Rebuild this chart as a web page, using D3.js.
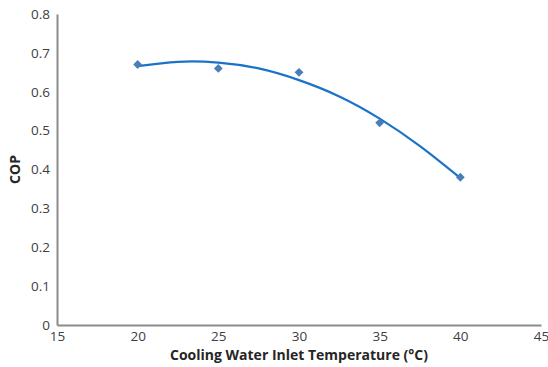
<!DOCTYPE html>
<html>
<head>
<meta charset="utf-8">
<script src="https://cdn.jsdelivr.net/npm/d3@7"></script>
<style>
  body { margin: 0; background: #fff; }
  text { font-family: "Open Sans", Lato, sans-serif; }
</style>
</head>
<body>
<div id="chart"></div>
<script>
// measured points
var temps = [20, 25, 30, 35, 40];
var copValues = [0.67, 0.66, 0.65, 0.52, 0.38];

// trendline (poly fit shown in the chart)
var trendTemps = [20, 22.5, 25, 27.5, 30, 32.5, 35, 37.5, 40];
var trendValues = [0.666, 0.677, 0.675, 0.66, 0.63, 0.588, 0.531, 0.46, 0.378];

var xTicks = [15, 20, 25, 30, 35, 40, 45];
var yTicks = [0, 0.1, 0.2, 0.3, 0.4, 0.5, 0.6, 0.7, 0.8];

var width = 548, height = 367;
var margin = { top: 14, right: 7, bottom: 42, left: 57 };

var svg = d3.select('#chart').append('svg')
    .attr('width', width)
    .attr('height', height);

var x = d3.scaleLinear().domain([15, 45]).range([margin.left, width - margin.right]);
var y = d3.scaleLinear().domain([0, 0.8]).range([height - margin.bottom, margin.top]);

// axes, no tick marks, just the lines and labels
var xAxis = svg.append('g')
    .attr('transform', 'translate(0,' + y(0) + ')')
    .call(d3.axisBottom(x).tickValues(xTicks).tickSize(0).tickPadding(6).tickFormat(d3.format('d')));
var yAxis = svg.append('g')
    .attr('transform', 'translate(' + x(15) + ',0)')
    .call(d3.axisLeft(y).tickValues(yTicks).tickSize(0).tickPadding(7).tickFormat(d => d === 0 ? '0' : d3.format('.1f')(d)));

[xAxis, yAxis].forEach(function(a) {
    a.select('.domain').attr('stroke', '#8c8c8c').attr('stroke-width', 2);
    a.selectAll('text').attr('fill', '#404040').style('font-size', '13.5px');
});

// trend line
var line = d3.line()
    .x((d, i) => x(trendTemps[i]))
    .y(d => y(d))
    .curve(d3.curveNatural);

svg.append('path')
    .datum(trendValues)
    .attr('d', line)
    .attr('fill', 'none')
    .attr('stroke', '#1a73c8')
    .attr('stroke-width', 2.2);

// diamond markers
var diamond = d3.symbol().type(d3.symbolDiamond2).size(50);
svg.append('g')
    .selectAll('path')
    .data(copValues)
    .enter().append('path')
    .attr('d', diamond)
    .attr('transform', (d, i) => 'translate(' + x(temps[i]) + ',' + y(d) + ')')
    .attr('fill', '#4a7ebb');

// axis titles
svg.append('text')
    .attr('x', x(30))
    .attr('y', 360)
    .attr('text-anchor', 'middle')
    .style('font-size', '14px')
    .style('font-weight', 'bold')
    .attr('fill', '#262626')
    .text('Cooling Water Inlet Temperature (°C)');

svg.append('text')
    .attr('transform', 'translate(20,' + y(0.4) + ') rotate(-90)')
    .attr('text-anchor', 'middle')
    .style('font-size', '14px')
    .style('font-weight', 'bold')
    .attr('fill', '#262626')
    .text('COP');
</script>
</body>
</html>
